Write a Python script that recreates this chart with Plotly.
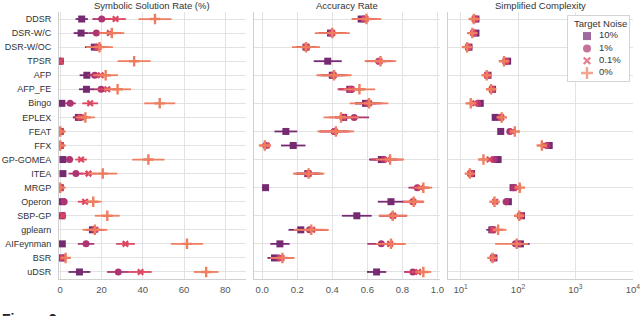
import plotly.graph_objects as go

methods = ["DDSR", "DSR-W/C", "DSR-W/OC", "TPSR", "AFP", "AFP_FE", "Bingo", "EPLEX", "FEAT", "FFX",
           "GP-GOMEA", "ITEA", "MRGP", "Operon", "SBP-GP", "gplearn", "AIFeynman", "BSR", "uDSR"]
noise_labels = ["10%", "1%", "0.1%", "0%"]

# Symbolic solution rate (%)
sr_10 = [10.4, 10.1, 16.5, 0, 12.9, 12.7, 0.8, 8.8, 0, 0, 1.3, 1.3, 0, 0.8, 0.8, 15.6, 1.0, 0.8, 9.3]
sr_10_err = [3.0, 3.6, 4.5, 0, 3.5, 3.6, 0.8, 2.7, 0, 0, 0.8, 0.8, 0, 0.6, 0.5, 3.0, 0.6, 0.5, 5.3]
sr_1 = [20.1, 17.5, 17.5, 0, 16.7, 19.8, 4.8, 9.3, 0, 0, 4.5, 7.6, 0, 1.9, 1.1, 16.5, 12.5, 1.0, 28.1]
sr_1_err = [4.5, 3.8, 3.5, 0, 3.5, 4.0, 2.7, 3.0, 0, 0, 1.8, 3.5, 0, 1.0, 0.6, 3.5, 4.0, 0.6, 5.4]
sr_01 = [26.8, 24.0, 18.5, 0, 19.6, 22.8, 14.5, 10.1, 0, 0, 10.1, 13.7, 0, 12.0, 1.2, 17.0, 31.6, 1.5, 38.9]
sr_01_err = [5.0, 5.5, 4.5, 0, 4.0, 4.5, 3.8, 3.0, 0, 0, 2.8, 4.0, 0, 3.5, 0.7, 4.5, 4.5, 1.0, 5.4]
sr_0 = [45.9, 25.0, 19.0, 35.8, 22.0, 27.8, 48.2, 12.2, 0, 0, 42.7, 20.6, 0, 16.0, 22.8, 16.8, 61.4, 2.6, 70.7]
sr_0_err = [8.0, 6.0, 6.5, 8.0, 6.0, 6.5, 7.5, 4.5, 0, 0, 7.8, 7.0, 0, 4.0, 6.0, 6.0, 7.8, 1.5, 6.0]

# Accuracy rate
acc_10 = [0.565, 0.39, 0.25, 0.374, 0.40, 0.50, 0.59, 0.465, 0.135, 0.177, 0.68, 0.26, 0.019, 0.735, 0.54, 0.22, 0.101, 0.07, 0.653]
acc_10_err = [0.05, 0.06, 0.05, 0.08, 0.06, 0.06, 0.06, 0.05, 0.065, 0.07, 0.07, 0.06, 0.02, 0.075, 0.085, 0.07, 0.055, 0.04, 0.055]
acc_1 = [0.58, 0.395, 0.25, 0.665, 0.405, 0.505, 0.60, 0.525, 0.41, 0.02, 0.695, 0.262, 0.885, 0.86, 0.745, 0.27, 0.68, 0.095, 0.86]
acc_1_err = [0.06, 0.07, 0.05, 0.07, 0.07, 0.07, 0.07, 0.085, 0.08, 0.02, 0.08, 0.07, 0.05, 0.06, 0.075, 0.08, 0.08, 0.05, 0.05]
acc_01 = [0.59, 0.40, 0.252, 0.67, 0.408, 0.51, 0.61, 0.46, 0.415, 0.025, 0.715, 0.265, 0.905, 0.862, 0.748, 0.285, 0.73, 0.11, 0.89]
acc_01_err = [0.07, 0.08, 0.06, 0.08, 0.08, 0.08, 0.08, 0.08, 0.09, 0.025, 0.085, 0.08, 0.05, 0.06, 0.08, 0.09, 0.08, 0.06, 0.06]
acc_0 = [0.595, 0.40, 0.25, 0.675, 0.41, 0.555, 0.61, 0.45, 0.42, 0.015, 0.73, 0.265, 0.92, 0.865, 0.745, 0.28, 0.735, 0.115, 0.92]
acc_0_err = [0.085, 0.10, 0.08, 0.09, 0.10, 0.09, 0.11, 0.10, 0.105, 0.035, 0.08, 0.09, 0.05, 0.06, 0.08, 0.10, 0.085, 0.07, 0.045]

# Simplified complexity (mean, lower, upper)
cx_10 = [18.5, 18.5, 14, 66, 30, 36, 22, 40, 50, 350, 45, 15.5, 82, 68, 115, 35, 110, 38, None]
cx_10_lo = [17.5, 17.3, 13.2, 62, 28.2, 34, 20.8, 37.8, 48, 330, 40, 14.6, 78, 60, 108, 28, 80, 35.8, None]
cx_10_hi = [19.6, 19.8, 14.9, 70, 32, 38.2, 23.4, 42.3, 52.2, 372, 50, 16.5, 86, 76, 123, 42, 160, 40.5, None]
cx_1 = [18, 17, 13.8, 63, 29.5, 35.5, 20, 50, 72, 320, 38, 15, 83, 62, 112, 36, 90, 37, None]
cx_1_lo = [17, 16, 13, 59.5, 27.8, 33.6, 18.8, 47, 68, 302, 34.5, 14.2, 78, 56, 105, 32, 75, 35, None]
cx_1_hi = [19, 18, 14.6, 66.5, 31.3, 37.5, 21.3, 53, 76, 340, 42, 15.9, 88, 69, 119, 40, 110, 39, None]
cx_01 = [17.5, 16.5, 13.5, 60, 29, 35, 18, 51, 80, 290, 32, 14.8, 100, 40, 108, 37, 100, 36.5, None]
cx_01_lo = [16.5, 15.5, 12.7, 56.5, 27.3, 33, 16.8, 48, 75, 272, 29, 14, 93, 37.5, 101, 33, 80, 34.5, None]
cx_01_hi = [18.5, 17.5, 14.3, 63.5, 30.7, 37, 19.3, 54, 85, 308, 35.5, 15.6, 107, 42.5, 115, 41, 125, 38.5, None]
cx_0 = [17, 16, 13, 57, 28.5, 34, 15, 52, 88, 260, 25, 14.5, 107, 39, 105, 45, 95, 36, None]
cx_0_lo = [16, 15, 12.2, 53.5, 26.8, 32, 13.8, 49, 82, 244, 22.5, 13.7, 100, 36.5, 98, 38, 40, 34, None]
cx_0_hi = [18, 17, 13.8, 60.5, 30.2, 36, 16.3, 55, 94, 276, 27.5, 15.3, 114, 41.5, 112, 63, 150, 38, None]

cx_ticks = [10, 100, 1000, 10000]
cx_ticktext = ["10<sup>1</sup>", "10<sup>2</sup>", "10<sup>3</sup>", "10<sup>4</sup>"]

colors = ["#752a72", "#ad3571", "#dc4660", "#ee7e60"]
symbols = ["square", "circle", "x-thin", "cross-thin"]
sizes = [7, 7, 5.5, 7.5]
lines = [0, 0, 2.2, 2.4]

sr = [(sr_10, sr_10_err), (sr_1, sr_1_err), (sr_01, sr_01_err), (sr_0, sr_0_err)]
acc = [(acc_10, acc_10_err), (acc_1, acc_1_err), (acc_01, acc_01_err), (acc_0, acc_0_err)]
cx = [(cx_10, cx_10_lo, cx_10_hi), (cx_1, cx_1_lo, cx_1_hi), (cx_01, cx_01_lo, cx_01_hi), (cx_0, cx_0_lo, cx_0_hi)]

fig = go.Figure()
FONT = "Liberation Sans, Arial, sans-serif"

for i in range(4):
    common = dict(mode="markers", y=methods, showlegend=False, hoverinfo="skip",
                  marker=dict(symbol=symbols[i], size=sizes[i], color=colors[i],
                              line=dict(width=lines[i], color=colors[i])))
    vals, err = sr[i]
    fig.add_trace(go.Scatter(x=vals, xaxis="x", yaxis="y", name=noise_labels[i],
                             error_x=dict(type="data", array=err, color=colors[i], thickness=1.8, width=0),
                             **common))
    vals, err = acc[i]
    fig.add_trace(go.Scatter(x=vals, xaxis="x2", yaxis="y2", name=noise_labels[i],
                             error_x=dict(type="data", array=err, color=colors[i], thickness=1.8, width=0),
                             **common))
    m, lo, hi = cx[i]
    plus = [None if a is None else b - a for a, b in zip(m, hi)]
    minus = [None if a is None else a - b for a, b in zip(m, lo)]
    fig.add_trace(go.Scatter(x=m, xaxis="x3", yaxis="y3", name=noise_labels[i],
                             error_x=dict(type="data", array=plus, arrayminus=minus, color=colors[i],
                                          thickness=1.8, width=0),
                             **common))

# Legend ("Target Noise") drawn as a small inset subplot so it can be as compact as the original
fig.add_trace(go.Scatter(x=[19] * 4, y=noise_labels, xaxis="x4", yaxis="y4", mode="markers",
                         showlegend=False, hoverinfo="skip",
                         marker=dict(symbol=symbols, size=[8, 8, 6.5, 8.5], color=colors,
                                     line=dict(width=lines, color=colors))))
fig.add_trace(go.Scatter(x=[31] * 4, y=noise_labels, xaxis="x4", yaxis="y4", mode="text",
                         text=noise_labels, textposition="middle right", showlegend=False, hoverinfo="skip",
                         textfont=dict(family="Liberation Sans, Arial, sans-serif", size=9.5, color="#333333")))

W, H = 640, 316
def px(a, b):
    return [a / W, b / W]

def py(top, bottom):
    return [1 - bottom / H, 1 - top / H]

ydom = py(12, 279)
grid = "#e3e3e3"
spine = "#d0d0d0"
tickfont = dict(family=FONT, size=9.5, color="#555555")

xcommon = dict(showgrid=True, gridcolor=grid, gridwidth=1, zeroline=False, showline=True, linecolor=spine,
               linewidth=1, ticks="", tickfont=tickfont, automargin=False, ticklabelstandoff=2,
               ticklabeloverflow="allow")
ycommon = dict(type="category", categoryarray=methods, categoryorder="array", range=[18.5, -0.5],
               showgrid=True, gridcolor=grid, gridwidth=1, zeroline=False, showline=True, linecolor=spine,
               linewidth=1, ticks="", domain=ydom, automargin=False)

fig.update_layout(
    width=W, height=H,
    margin=dict(l=0, r=0, t=0, b=0, autoexpand=False),
    paper_bgcolor="white", plot_bgcolor="white",
    font=dict(family=FONT, size=9.5, color="#333333"),
    showlegend=False,
    xaxis=dict(domain=px(59, 246), range=[-0.6, 90], tickvals=[0, 20, 40, 60, 80], anchor="y", **xcommon),
    xaxis2=dict(domain=px(254, 440), range=[-0.047, 1.015], tickvals=[0, 0.2, 0.4, 0.6, 0.8, 1.0],
                ticktext=["0.0", "0.2", "0.4", "0.6", "0.8", "1.0"], anchor="y2", **xcommon),
    xaxis3=dict(domain=px(448, 633), type="log", range=[0.78, 4.004], tickvals=cx_ticks,
                ticktext=cx_ticktext, anchor="y3", **xcommon),
    yaxis=dict(anchor="x", showticklabels=True, tickfont=dict(family=FONT, size=9, color="#333333"),
               ticklabelstandoff=5, **ycommon),
    yaxis2=dict(anchor="x2", showticklabels=False, **ycommon),
    yaxis3=dict(anchor="x3", showticklabels=False, **ycommon),
    xaxis4=dict(domain=px(568, 629), range=[0, 61], anchor="y4", showgrid=False, zeroline=False,
                showticklabels=False, showline=True, mirror=True, linecolor="#d5d5d5", linewidth=1,
                ticks="", automargin=False, fixedrange=True),
    yaxis4=dict(domain=py(16, 81), type="category", categoryarray=noise_labels, categoryorder="array",
                range=[3.65, -1.63], anchor="x4", showgrid=False, zeroline=False, showticklabels=False,
                showline=True, mirror=True, linecolor="#d5d5d5", linewidth=1, ticks="",
                automargin=False, fixedrange=True),
)

titles = [("Symbolic Solution Rate (%)", 152), ("Accuracy Rate", 347), ("Simplified Complexity", 540)]
for text, xc in titles:
    fig.add_annotation(text=text, x=xc / W, y=1 - 6 / H, xref="paper", yref="paper",
                       xanchor="center", yanchor="middle", showarrow=False,
                       font=dict(family=FONT, size=9.5, color="#333333"))

fig.add_annotation(text="Target Noise", x=572 / W, y=1 - 24 / H, xref="paper", yref="paper",
                   xanchor="left", yanchor="middle", showarrow=False,
                   font=dict(family=FONT, size=9.5, color="#333333"))

fig.add_annotation(text="<b>Figure 2:</b>", x=0, y=1 - 309 / H, xref="paper", yref="paper",
                   xanchor="left", yanchor="top", showarrow=False,
                   font=dict(family=FONT, size=14, color="#222222"))

fig.write_html("out.html", config={"displayModeBar": False, "staticPlot": True},
               post_script="document.body.style.margin='0px';document.body.style.overflow='hidden';")
